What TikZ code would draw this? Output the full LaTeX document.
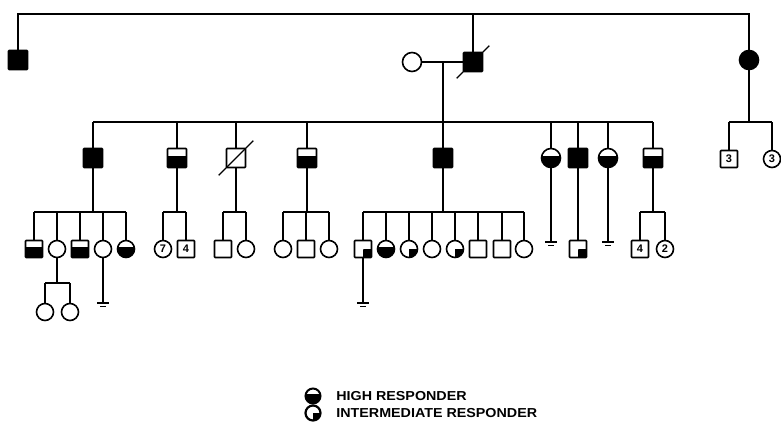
\documentclass[tikz,border=0pt]{standalone}
\usepackage{fontspec}
\setmainfont{Liberation Sans}
\begin{document}
\begin{tikzpicture}[x=1pt,y=-1pt,line width=1.3pt,
  male/.style={draw,rectangle,rounded corners=0.8pt,minimum size=17pt,inner sep=0pt,line width=1.6pt},
  female/.style={draw,circle,minimum size=17pt,inner sep=0pt,line width=1.6pt},
  big/.style={minimum size=19pt},
  affected/.style={fill=black},
  high/.style={path picture={\fill ([yshift=2pt]path picture bounding box.west) rectangle (path picture bounding box.south east);}},
  inter/.style={path picture={\fill (path picture bounding box.center) rectangle (path picture bounding box.south east);}},
  count/.style={font=\bfseries\fontsize{11}{11}\selectfont},
  legend/.style={anchor=west,font=\bfseries\fontsize{13}{13}\selectfont,xscale=1.1}]
\useasboundingbox (0,0) rectangle (781,423);
%Start with the first generation, then hang every sibship
% from a horizontal line under its parent.
% Squares are men, circles are women; the fill tells
% how strongly each one responds.
\node[male,big,affected] (ia) at (18,60) {};
\node[female,big] (iw) at (412,62) {};
\node[male,big,affected] (ib) at (473,62) {};
\node[female,big,affected] (ic) at (749,60) {};
\coordinate (top) at (0,14);
\draw (ia) -- (ia |- top) -- (ic |- top) -- (ic);
\draw (ib) -- (ib |- top);
\draw ([shift={(-6,6)}]ib.south west) -- ([shift={(6,-6)}]ib.north east);
\draw (iw) -- (ib);
% second generation
\coordinate (m1) at (443,62);
\coordinate (s2) at (443,122);
\draw (m1) -- (s2);
\node[male,big,affected] (ii1) at (93,158) {};
\node[male,big,high] (ii2) at (177,158) {};
\node[male,big] (ii3) at (236,158) {};
\node[male,big,high] (ii4) at (307,158) {};
\node[male,big,affected] (ii5) at (443,158) {};
\node[female,big,high] (ii6) at (551,158) {};
\node[male,big,affected] (ii7) at (578,158) {};
\node[female,big,high] (ii8) at (608,158) {};
\node[male,big,high] (ii9) at (653,158) {};
\draw ([shift={(-7,7)}]ii3.south west) -- ([shift={(7,-7)}]ii3.north east);
\draw (ii1 |- s2) -- (ii9 |- s2);
\foreach \n in {ii1,ii2,ii3,ii4,ii5,ii6,ii7,ii8,ii9}
  \draw (\n) -- (\n |- s2);
% children of the woman on the right
\node[male,count] (ic1) at (729,159) {3};
\node[female,count] (ic2) at (772,159) {3};
\coordinate (s3) at (749,122);
\draw (ic) -- (s3);
\draw (ic1 |- s3) -- (ic2 |- s3);
\draw (ic1) -- (ic1 |- s3);
\draw (ic2) -- (ic2 |- s3);
% third generation
\coordinate (s4) at (0,212);
\node[male,high] (a1) at (34,249) {};
\node[female] (a2) at (57,249) {};
\node[male,high] (a3) at (80,249) {};
\node[female] (a4) at (103,249) {};
\node[female,high] (a5) at (126,249) {};
\node[female,count] (b1) at (163,249) {7};
\node[male,count] (b2) at (186,249) {4};
\node[male] (c1) at (223,249) {};
\node[female] (c2) at (246,249) {};
\node[female] (d1) at (283,249) {};
\node[male] (d2) at (306,249) {};
\node[female] (d3) at (329,249) {};
\node[male,inter] (e1) at (363,249) {};
\node[female,high] (e2) at (386,249) {};
\node[female,inter] (e3) at (409,249) {};
\node[female] (e4) at (432,249) {};
\node[female,inter] (e5) at (455,249) {};
\node[male] (e6) at (478,249) {};
\node[male] (e7) at (502,249) {};
\node[female] (e8) at (524,249) {};
\node[male,inter] (g1) at (578,249) {};
\node[male,count] (h1) at (640,249) {4};
\node[female,count] (h2) at (665,249) {2};
\draw (ii1) -- (ii1 |- s4);
\draw (a1 |- s4) -- (a5 |- s4);
\foreach \n in {a1,a2,a3,a4,a5}
  \draw (\n) -- (\n |- s4);
\draw (ii2) -- (ii2 |- s4);
\draw (b1 |- s4) -- (b2 |- s4);
\foreach \n in {b1,b2}
  \draw (\n) -- (\n |- s4);
\draw (ii3) -- (ii3 |- s4);
\draw (c1 |- s4) -- (c2 |- s4);
\foreach \n in {c1,c2}
  \draw (\n) -- (\n |- s4);
\draw (ii4) -- (ii4 |- s4);
\draw (d1 |- s4) -- (d3 |- s4);
\foreach \n in {d1,d2,d3}
  \draw (\n) -- (\n |- s4);
\draw (ii5) -- (ii5 |- s4);
\draw (e1 |- s4) -- (e8 |- s4);
\foreach \n in {e1,e2,e3,e4,e5,e6,e7,e8}
  \draw (\n) -- (\n |- s4);
\draw (ii7) -- (g1);
\draw (ii9) -- (ii9 |- s4);
\draw (h1 |- s4) -- (h2 |- s4);
\foreach \n in {h1,h2}
  \draw (\n) -- (\n |- s4);
% lines that end without offspring
\coordinate (z1) at (551,242);
\coordinate (z2) at (608,242);
\coordinate (z3) at (103,303);
\coordinate (z4) at (363,303);
\draw (ii6) -- (z1);
\draw (ii8) -- (z2);
\draw (a4) -- (z3);
\draw (e1) -- (z4);
\foreach \z in {z1,z2,z3,z4}{
  \draw ([xshift=-6pt]\z) -- ([xshift=6pt]\z);
  \draw[line width=1pt] ([shift={(-3,3)}]\z) -- ([shift={(3,3)}]\z);
}
% fourth generation
\coordinate (s5) at (0,283);
\node[female] (f1) at (45,312) {};
\node[female] (f2) at (70,312) {};
\draw (a2) -- (a2 |- s5);
\draw (f1 |- s5) -- (f2 |- s5);
\draw (f1) -- (f1 |- s5);
\draw (f2) -- (f2 |- s5);
% legend
\node[female,high,minimum size=15pt,line width=2pt] (lh) at (313,396) {};
\node[legend] (lht) at (332,396) {HIGH RESPONDER};
\node[female,inter,minimum size=15pt,line width=2.2pt] (li) at (313,413) {};
\node[legend] (lit) at (332,413) {INTERMEDIATE RESPONDER};
\end{tikzpicture}
\end{document}
